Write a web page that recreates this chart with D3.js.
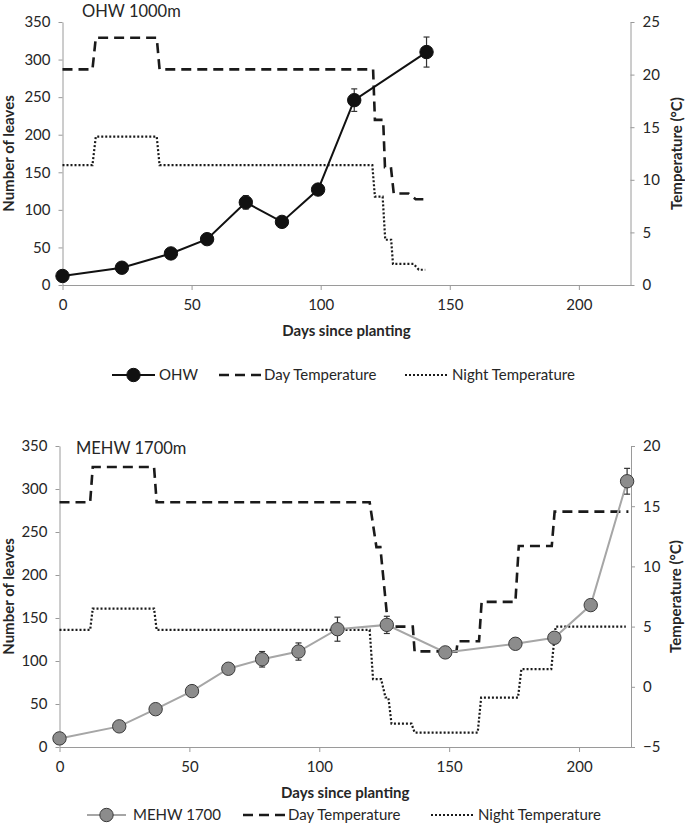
<!DOCTYPE html>
<html><head><meta charset="utf-8">
<script src="https://cdn.jsdelivr.net/npm/d3@7/dist/d3.min.js"></script>
<style>
body{margin:0;background:#fff}
text{font-family:Lato,"Open Sans",sans-serif;fill:#262626}
</style>
</head><body>
<svg id="c" width="685" height="823"></svg>
<script>
// ---------- Top panel: OHW 1000m ----------
const ohwDays   = [0, 23, 42, 56, 71, 85, 99, 113, 141];
const ohwLeaves = [12, 23, 42, 61, 110, 84, 127, 246, 310];
const ohwErr    = [2, 2, 3, 3, 9, 7, 6, 15, 20];
const ohwDayTDays = [0, 11.6, 12.9, 36.5, 37.6, 120.3, 121, 124.2, 124.9, 127.2, 128.3, 134, 136.8, 141];
const ohwDayTVals = [20.5, 20.5, 23.5, 23.5, 20.5, 20.5, 15.7, 15.7, 11.2, 11.2, 8.7, 8.7, 8.15, 8.15];
const ohwNightTDays = [0, 11.6, 12.9, 36.5, 37.6, 120, 121, 124, 125, 127.3, 128, 136, 138, 140.5];
const ohwNightTVals = [11.4, 11.4, 14.1, 14.1, 11.4, 11.4, 8.4, 8.4, 4.3, 4.3, 2.0, 2.0, 1.45, 1.45];

// ---------- Bottom panel: MEHW 1700m ----------
const mehwDays   = [0, 23, 37, 51, 65, 78, 92, 107, 126, 148.5, 175.5, 190.5, 204.5, 218.5];
const mehwLeaves = [10, 24, 44, 65, 91, 102, 111, 137, 142, 110, 120, 127, 165, 309];
const mehwErr    = [2, 2, 3, 5, 6, 9, 10, 14, 10, 5, 5, 4, 4, 15];
const mehwDayTDays = [0, 11.8, 12.8, 36.4, 37.4, 119.4, 122, 123.5, 126.5, 136, 136.7, 152.8, 153.3, 161.5, 162.5, 175.5, 176.8, 189.5, 190.6, 219];
const mehwDayTVals = [15.33, 15.33, 18.25, 18.25, 15.33, 15.33, 11.6, 11.6, 5.0, 5.0, 2.94, 2.94, 3.78, 3.78, 7.05, 7.05, 11.7, 11.7, 14.55, 14.55];
const mehwNightTDays = [0, 11.8, 12.8, 36.4, 37.4, 119.4, 120.7, 123.8, 125.5, 126.6, 127.8, 135.5, 136.7, 161, 162.3, 176.5, 177.8, 189.3, 191, 218];
const mehwNightTVals = [4.72, 4.72, 6.5, 6.5, 4.72, 4.72, 0.64, 0.64, -0.89, -0.89, -3.06, -3.06, -3.8, -3.8, -0.9, -0.9, 1.47, 1.47, 5.0, 5.0];

// ---------- Ticks / labels ----------
const leafTicks = [0, 50, 100, 150, 200, 250, 300, 350];
const dayTicks = [0, 50, 100, 150, 200];
const ohwTempTicks = [0, 5, 10, 15, 20, 25];
const mehwTempTicks = [-5, 0, 5, 10, 15, 20];
const xLabel = "Days since planting";
const yLabel = "Number of leaves";
const y2Label = "Temperature (°C)";
const legendDay = "Day Temperature";
const legendNight = "Night Temperature";

const svg = d3.select("#c");
svg.append("rect").attr("width",685).attr("height",823).attr("fill","#fff");

function panel(cfg){
  const g = svg.append("g");
  const x = d3.scaleLinear().domain([0,220]).range([cfg.left, cfg.right]);
  const y = d3.scaleLinear().domain([0,350]).range([cfg.bottom, cfg.top]);
  const yT = d3.scaleLinear().domain(cfg.tempDomain).range([cfg.bottom, cfg.top]);
  const axisColor = "#9a9a9a";

  const styleAxis = a => {
    a.selectAll("path.domain").attr("stroke", axisColor).attr("stroke-width",1);
    a.selectAll(".tick line").attr("stroke", axisColor);
    a.selectAll("text").attr("font-size", 15).attr("font-family","Lato, sans-serif").attr("fill","#262626");
  };
  const ax = g.append("g").attr("transform",`translate(0,${cfg.bottom})`)
    .call(d3.axisBottom(x).tickValues(dayTicks).tickSize(5).tickSizeOuter(0).tickPadding(9));
  styleAxis(ax);
  const ay = g.append("g").attr("transform",`translate(${cfg.left},0)`)
    .call(d3.axisLeft(y).tickValues(leafTicks).tickSize(4).tickSizeOuter(0).tickPadding(8));
  styleAxis(ay);
  const ay2 = g.append("g").attr("transform",`translate(${cfg.right},0)`)
    .call(d3.axisRight(yT).tickValues(cfg.tempTicks).tickSize(4).tickSizeOuter(0).tickPadding(8));
  styleAxis(ay2);

  // temperature lines
  const tLine = d3.line().x(d=>x(d[0])).y(d=>yT(d[1]));
  g.append("path").datum(d3.zip(cfg.dayTDays, cfg.dayTVals)).attr("d", tLine)
    .attr("fill","none").attr("stroke","#1a1a1a").attr("stroke-width",2.6).attr("stroke-dasharray","10,6");
  g.append("path").datum(d3.zip(cfg.nightTDays, cfg.nightTVals)).attr("d", tLine)
    .attr("fill","none").attr("stroke","#1a1a1a").attr("stroke-width",2.2).attr("stroke-dasharray","2,2");

  // leaves series
  const pts = d3.zip(cfg.days, cfg.leaves, cfg.err);
  g.append("path").datum(pts).attr("d", d3.line().x(d=>x(d[0])).y(d=>y(d[1])))
    .attr("fill","none").attr("stroke",cfg.lineColor).attr("stroke-width",2);
  const eb = g.append("g").attr("stroke","#333").attr("stroke-width",1.2);
  pts.forEach(d=>{
    const cx = x(d[0]), y1 = y(d[1]-d[2]), y2 = y(d[1]+d[2]);
    eb.append("line").attr("x1",cx).attr("x2",cx).attr("y1",y1).attr("y2",y2);
    eb.append("line").attr("x1",cx-3).attr("x2",cx+3).attr("y1",y1).attr("y2",y1);
    eb.append("line").attr("x1",cx-3).attr("x2",cx+3).attr("y1",y2).attr("y2",y2);
  });
  g.append("g").selectAll("circle").data(pts).join("circle")
    .attr("cx",d=>x(d[0])).attr("cy",d=>y(d[1])).attr("r",6.7)
    .attr("fill",cfg.markerFill).attr("stroke",cfg.markerStroke).attr("stroke-width",1);

  // titles & labels
  g.append("text").attr("x",cfg.titleX).attr("y",cfg.titleY).attr("font-size",16.5).text(cfg.title);
  g.append("text").attr("x",(cfg.left+cfg.right)/2).attr("y",cfg.bottom+51).attr("text-anchor","middle")
    .attr("font-size",15).attr("font-weight","bold").text(xLabel);
  g.append("text").attr("transform",`translate(${cfg.yLabelX},${(cfg.top+cfg.bottom)/2}) rotate(-90)`)
    .attr("text-anchor","middle").attr("dy","0.35em").attr("font-size",15).attr("font-weight","bold").text(yLabel);
  g.append("text").attr("transform",`translate(${cfg.y2LabelX},${(cfg.top+cfg.bottom)/2}) rotate(-90)`)
    .attr("text-anchor","middle").attr("dy","0.35em").attr("font-size",15).attr("font-weight","bold").text(y2Label);

  // legend
  const L = cfg.legend, ly = L.y;
  const lg = g.append("g");
  lg.append("line").attr("x1",L.s[0]).attr("x2",L.s[1]).attr("y1",ly).attr("y2",ly).attr("stroke",cfg.lineColor).attr("stroke-width",2);
  lg.append("circle").attr("cx",(L.s[0]+L.s[1])/2).attr("cy",ly).attr("r",6.7).attr("fill",cfg.markerFill).attr("stroke",cfg.markerStroke);
  lg.append("text").attr("x",L.s[2]).attr("y",ly).attr("dy","0.35em").attr("font-size",15).text(cfg.seriesName);
  lg.append("line").attr("x1",L.d[0]).attr("x2",L.d[1]).attr("y1",ly).attr("y2",ly).attr("stroke","#1a1a1a").attr("stroke-width",2.6).attr("stroke-dasharray","10,6");
  lg.append("text").attr("x",L.d[2]).attr("y",ly).attr("dy","0.35em").attr("font-size",15).text(legendDay);
  lg.append("line").attr("x1",L.n[0]).attr("x2",L.n[1]).attr("y1",ly).attr("y2",ly).attr("stroke","#1a1a1a").attr("stroke-width",2.2).attr("stroke-dasharray","2,2");
  lg.append("text").attr("x",L.n[2]).attr("y",ly).attr("dy","0.35em").attr("font-size",15).text(legendNight);
}

panel({
  left:62.5, right:630.5, top:22, bottom:285,
  tempDomain:[0,25], tempTicks:ohwTempTicks,
  days:ohwDays, leaves:ohwLeaves, err:ohwErr,
  dayTDays:ohwDayTDays, dayTVals:ohwDayTVals, nightTDays:ohwNightTDays, nightTVals:ohwNightTVals,
  lineColor:"#111", markerFill:"#111", markerStroke:"#111",
  title:"OHW 1000m", titleX:82, titleY:17, seriesName:"OHW",
  yLabelX:9, y2LabelX:677,
  legend:{y:375, s:[112,155,159], d:[219,261,264], n:[405,447,452]}
});
panel({
  left:59.5, right:631, top:446, bottom:747,
  tempDomain:[-5,20], tempTicks:mehwTempTicks,
  days:mehwDays, leaves:mehwLeaves, err:mehwErr,
  dayTDays:mehwDayTDays, dayTVals:mehwDayTVals, nightTDays:mehwNightTDays, nightTVals:mehwNightTVals,
  lineColor:"#a6a6a6", markerFill:"#8c8c8c", markerStroke:"#3a3a3a",
  title:"MEHW 1700m", titleX:76, titleY:454, seriesName:"MEHW 1700",
  yLabelX:9, y2LabelX:676,
  legend:{y:815, s:[87,126,133], d:[243,285,288], n:[431,473,478]}
});
</script>
</body></html>
